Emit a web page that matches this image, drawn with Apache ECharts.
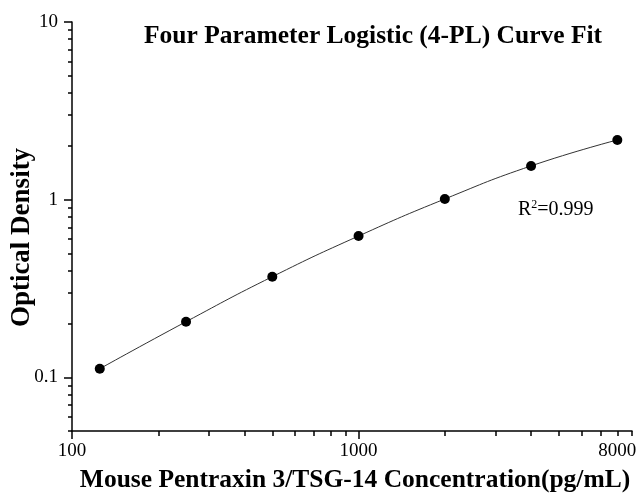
<!DOCTYPE html>
<html>
<head>
<meta charset="utf-8">
<script src="https://cdn.jsdelivr.net/npm/echarts@6/dist/echarts.min.js"></script>
<style>
    html, body { margin: 0; padding: 0; background: #fff; }
    #chart { width: 639px; height: 493px; }
</style>
</head>
<body>
<div id="chart"></div>
<script>
// standard curve data
const concentrations = [125, 250, 500, 1000, 2000, 4000, 8000];
const densities = [0.112, 0.206, 0.369, 0.625, 1.01, 1.55, 2.17];

// axis ticks
const xMajorTicks = [100, 1000];
const xMinorTicks = [200, 300, 400, 500, 600, 700, 800, 900, 2000, 3000, 4000, 5000, 6000, 7000, 8000, 9000];
const xTickLabels = [100, 1000, 8000];
const yMajorTicks = [0.1, 1, 10];
const yMinorTicks = [0.05, 0.06, 0.07, 0.08, 0.09, 0.2, 0.3, 0.4, 0.5, 0.6, 0.7, 0.8, 0.9, 2, 3, 4, 5, 6, 7, 8, 9];
const yTickLabels = [0.1, 1, 10];

const serif = '"Liberation Serif", "DejaVu Serif", serif';

const chart = echarts.init(document.getElementById('chart'));

const axisLine = { show: true, lineStyle: { color: '#000', width: 1.5 } };
const plainNumber = v => String(+v.toPrecision(6));

chart.setOption({
    animation: false,
    backgroundColor: '#fff',
    title: {
        text: 'Four Parameter Logistic (4-PL) Curve Fit',
        left: 368,
        top: 18,
        textAlign: 'center',
        textStyle: { fontFamily: serif, fontWeight: 'bold', fontSize: 25.5, color: '#000' }
    },
    grid: { left: 72, right: 7, top: 22, bottom: 62, outerBoundsMode: 'none', containLabel: false },
    xAxis: [
        {
            type: 'log',
            logBase: 10,
            min: 100,
            max: 9000,
            name: 'Mouse Pentraxin 3/TSG-14 Concentration(pg/mL)',
            nameLocation: 'middle',
            nameGap: 36,
            nameMoveOverlap: false,
            nameTextStyle: { fontFamily: serif, fontWeight: 'bold', fontSize: 25.5, color: '#000', padding: [0, 0, 0, 6] },
            axisLine: axisLine,
            axisTick: { show: true, length: 8, customValues: xMajorTicks, lineStyle: { color: '#000', width: 1.5 } },
            axisLabel: { customValues: xTickLabels, formatter: plainNumber, fontFamily: serif, fontSize: 19, color: '#000', margin: 11 },
            splitLine: { show: false }
        },
        {
            type: 'log',
            logBase: 10,
            min: 100,
            max: 9000,
            position: 'bottom',
            axisLine: { show: false },
            axisTick: { show: true, length: 5, customValues: xMinorTicks, lineStyle: { color: '#000', width: 1.5 } },
            axisLabel: { show: false },
            splitLine: { show: false }
        }
    ],
    yAxis: [
        {
            type: 'log',
            logBase: 10,
            min: 0.05,
            max: 10,
            name: 'Optical Density',
            nameLocation: 'middle',
            nameGap: 36,
            nameMoveOverlap: false,
            nameTextStyle: { fontFamily: serif, fontWeight: 'bold', fontSize: 27, color: '#000', padding: [0, 22, 0, 0] },
            axisLine: axisLine,
            axisTick: { show: true, length: 8, customValues: yMajorTicks, lineStyle: { color: '#000', width: 1.5 } },
            axisLabel: { customValues: yTickLabels, formatter: plainNumber, fontFamily: serif, fontSize: 19, color: '#000', margin: 14 },
            splitLine: { show: false }
        },
        {
            type: 'log',
            logBase: 10,
            min: 0.05,
            max: 10,
            position: 'left',
            axisLine: { show: false },
            axisTick: { show: true, length: 4, customValues: yMinorTicks, lineStyle: { color: '#000', width: 1.5 } },
            axisLabel: { show: false },
            splitLine: { show: false }
        }
    ],
    graphic: [
        {
            type: 'text',
            left: 518,
            top: 199,
            style: {
                text: '{a|R}{b|2}{a|=0.999}',
                rich: {
                    a: { fontFamily: serif, fontSize: 20, color: '#000' },
                    b: { fontFamily: serif, fontSize: 12, color: '#000', verticalAlign: 'top', padding: [0, 0, 10, 0] }
                }
            }
        }
    ],
    series: [
        {
            type: 'line',
            xAxisIndex: 0,
            yAxisIndex: 0,
            data: concentrations.map((c, i) => [c, densities[i]]),
            smooth: true,
            symbol: 'circle',
            symbolSize: 10,
            itemStyle: { color: '#000' },
            lineStyle: { color: '#333', width: 1 }
        }
    ]
});
</script>
</body>
</html>
